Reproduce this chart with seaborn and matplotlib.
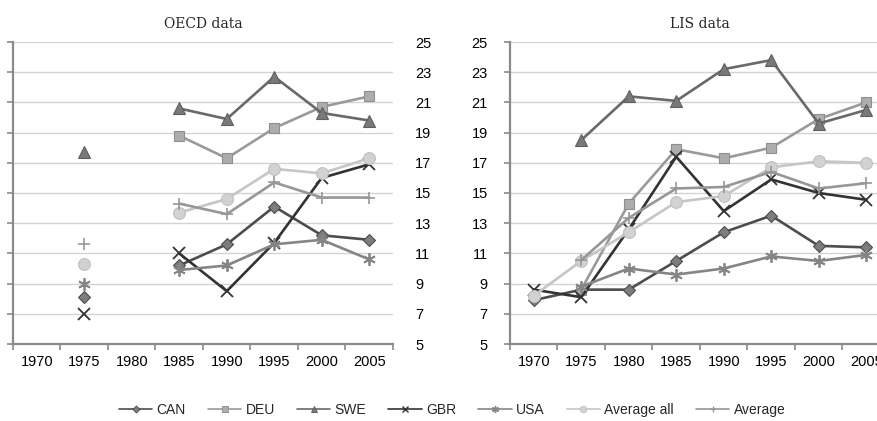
import numpy as np
import pandas as pd
import matplotlib
matplotlib.use("Agg")
import matplotlib.pyplot as plt
from matplotlib.lines import Line2D
import seaborn as sns

years = [1970, 1975, 1980, 1985, 1990, 1995, 2000, 2005]
series_names = ["CAN", "DEU", "SWE", "GBR", "USA", "Average all", "Average"]
nan = np.nan

# OECD data
oecd_can = [nan, 8.1, nan, 10.2, 11.6, 14.1, 12.2, 11.9]
oecd_deu = [nan, nan, nan, 18.8, 17.3, 19.3, 20.7, 21.4]
oecd_swe = [nan, 17.7, nan, 20.6, 19.9, 22.7, 20.3, 19.8]
oecd_gbr = [nan, 7.0, nan, 11.0, 8.5, 11.7, 16.0, 16.9]
oecd_usa = [nan, 9.0, nan, 9.9, 10.2, 11.6, 11.9, 10.6]
oecd_avg_all = [nan, 10.3, nan, 13.7, 14.6, 16.6, 16.3, 17.3]
oecd_avg = [nan, 11.6, nan, 14.3, 13.6, 15.7, 14.7, 14.7]

# LIS data
lis_can = [7.9, 8.6, 8.6, 10.5, 12.4, 13.5, 11.5, 11.4]
lis_deu = [nan, 8.6, 14.3, 17.9, 17.3, 18.0, 19.9, 21.0]
lis_swe = [nan, 18.5, 21.4, 21.1, 23.2, 23.8, 19.6, 20.5]
lis_gbr = [8.6, 8.1, 12.6, 17.4, 13.8, 15.9, 15.0, 14.55]
lis_usa = [nan, 8.8, 10.0, 9.6, 10.0, 10.8, 10.5, 10.9]
lis_avg_all = [8.2, 10.5, 12.4, 14.4, 14.8, 16.7, 17.1, 17.0]
lis_avg = [nan, 10.55, 13.35, 15.3, 15.4, 16.4, 15.3, 15.65]

y_ticks = [5, 7, 9, 11, 13, 15, 17, 19, 21, 23, 25]

styles = {
    "CAN": dict(color="#4d4d4d", marker="D", ms=6.5, mfc="#7d7d7d", mec="#4d4d4d", mew=0.8),
    "DEU": dict(color="#9a9a9a", marker="s", ms=7.5, mfc="#adadad", mec="#8f8f8f", mew=0.8),
    "SWE": dict(color="#696969", marker="^", ms=9, mfc="#797979", mec="#5f5f5f", mew=0.8),
    "GBR": dict(color="#333333", marker="x", ms=8, mfc="#333333", mec="#333333", mew=1.3),
    "USA": dict(color="#858585", marker=(6, 2, 0), ms=9, mfc="#858585", mec="#858585", mew=1.3),
    "Average all": dict(color="#c6c6c6", marker="o", ms=8.5, mfc="#d2d2d2", mec="#c0c0c0", mew=0.8),
    "Average": dict(color="#979797", marker="+", ms=9, mfc="#979797", mec="#979797", mew=1.2),
}

sns.set_theme(style="white")
plt.rcParams["font.family"] = ["Liberation Sans", "DejaVu Sans"]

fig = plt.figure(figsize=(8.78, 4.21), dpi=100)
W, H = 878.0, 421.0
ax1 = fig.add_axes([13 / W, (H - 344) / H, 380 / W, 302 / H])
ax2 = fig.add_axes([510 / W, (H - 344) / H, 380 / W, 302 / H])


def draw(ax, data):
    pos = np.arange(len(years))
    for name, vals in zip(series_names, data):
        st = styles[name]
        vals = np.asarray(vals, dtype=float)
        ok = ~np.isnan(vals)
        # split into contiguous runs so gaps are not bridged
        runs = []
        cur = []
        for i in range(len(vals)):
            if ok[i]:
                cur.append(i)
            elif cur:
                runs.append(cur)
                cur = []
        if cur:
            runs.append(cur)
        for r in runs:
            df = pd.DataFrame({"x": pos[r], "y": vals[r]})
            sns.lineplot(data=df, x="x", y="y", ax=ax, color=st["color"], lw=1.9,
                         marker=st["marker"], markersize=st["ms"],
                         markerfacecolor=st["mfc"], markeredgecolor=st["mec"],
                         markeredgewidth=st["mew"], zorder=3, legend=False)
    ax.set_xlim(-0.5, len(years) - 0.5)
    ax.set_ylim(5, 25)
    ax.set_yticks(y_ticks)
    ax.set_yticklabels([str(v) for v in y_ticks])
    ax.set_xticks(pos)
    ax.set_xticklabels([str(y) for y in years])
    ax.set_xticks(np.arange(-0.5, len(years), 1.0), minor=True)
    ax.set_xlabel("")
    ax.set_ylabel("")
    ax.grid(axis="y", color="#d3d3d3", lw=1.0, zorder=0)
    ax.grid(axis="x", visible=False)
    for s in ["top", "right"]:
        ax.spines[s].set_visible(False)
    for s in ["left", "bottom"]:
        ax.spines[s].set_color("#8a8a8a")
        ax.spines[s].set_linewidth(1.6)
    ax.tick_params(axis="x", which="major", length=0, pad=8, labelsize=10.5, colors="#000000")
    ax.tick_params(axis="x", which="minor", length=4, width=1.2, color="#8a8a8a", bottom=True)
    ax.tick_params(axis="y", length=4, width=1.2, color="#8a8a8a", labelsize=10.5, labelcolor="#000000")


draw(ax1, [oecd_can, oecd_deu, oecd_swe, oecd_gbr, oecd_usa, oecd_avg_all, oecd_avg])
draw(ax2, [lis_can, lis_deu, lis_swe, lis_gbr, lis_usa, lis_avg_all, lis_avg])

ax1.tick_params(axis="y", left=True, right=False, labelleft=False, labelright=True, pad=12)
ax2.tick_params(axis="y", left=True, labelleft=True, pad=12)

ax1.set_title("OECD data", family="DejaVu Serif", fontsize=10, pad=10)
ax2.set_title("LIS data", family="DejaVu Serif", fontsize=10, pad=10)

handles = []
for name in series_names:
    st = styles[name]
    handles.append(Line2D([0], [0], color=st["color"], lw=1.2, marker=st["marker"],
                          markersize=st["ms"] * 0.55, markerfacecolor=st["mfc"],
                          markeredgecolor=st["mec"], markeredgewidth=st["mew"] * 0.8))
fig.legend(handles, series_names, loc="center", bbox_to_anchor=(0.515, 0.027), ncol=7,
           frameon=False, handlelength=2.4, handletextpad=0.3, columnspacing=1.6,
           prop=dict(family=["Liberation Sans", "DejaVu Sans"], size=10))

fig.savefig("out.png", dpi=100)
